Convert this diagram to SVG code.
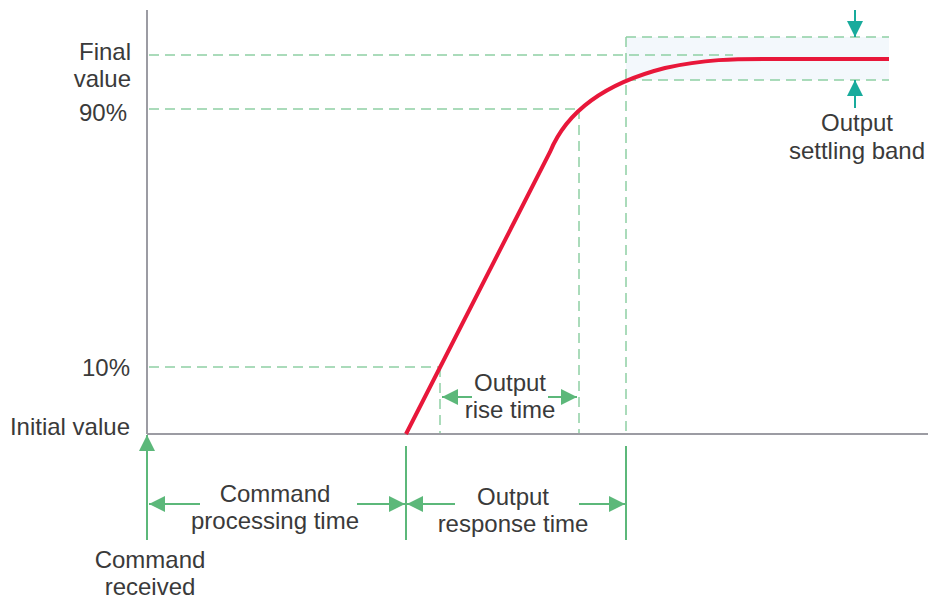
<svg xmlns="http://www.w3.org/2000/svg" width="928" height="600" viewBox="0 0 928 600">
<defs>
<marker id="ga" viewBox="0 0 10 10" refX="10" refY="5" markerWidth="16" markerHeight="16" markerUnits="userSpaceOnUse" orient="auto"><path d="M0,0 L10,5 L0,10 z" fill="#5cb87a"/></marker>
<marker id="ta" viewBox="0 0 10 10" refX="10" refY="5" markerWidth="16" markerHeight="16" markerUnits="userSpaceOnUse" orient="auto"><path d="M0,0 L10,5 L0,10 z" fill="#18ab9c"/></marker>
<style>
text{font-family:"Liberation Sans",Arial,sans-serif;font-size:24px;fill:#3a3a3a}
.dash{stroke:#8fcfa4;stroke-width:1.5;stroke-dasharray:10,6;fill:none}
.g{stroke:#5cb87a;stroke-width:2;fill:none}
.t{stroke:#18ab9c;stroke-width:2;fill:none}
.ax{stroke:#9c9ca3;stroke-width:2;fill:none}
</style>
</defs>
<rect x="626" y="37" width="263" height="43" fill="#f3f8fc"/>
<g id="axes">
<line class="ax" x1="147" y1="10" x2="147" y2="434"/>
<line class="ax" x1="147" y1="434" x2="928" y2="434"/>
</g>
<g id="guides">
<line class="dash" x1="149" y1="55" x2="733" y2="55"/>
<line class="dash" x1="149" y1="109" x2="579" y2="109"/>
<line class="dash" x1="149" y1="367" x2="440" y2="367"/>
<line class="dash" x1="626" y1="37" x2="889" y2="37"/>
<line class="dash" x1="626" y1="80" x2="889" y2="80"/>
<line class="dash" x1="626" y1="37" x2="626" y2="433"/>
<line class="dash" x1="579" y1="109" x2="579" y2="433"/>
<line class="dash" x1="440" y1="367" x2="440" y2="433"/>
</g>
<g id="curve">
<path d="M406,434 L550,152 C568,108 610,82 665,68 C705,59 735,59 765,59 L889,59" fill="none" stroke="#e8173a" stroke-width="4"/>
</g>
<g id="connectors">
<line class="g" x1="147" y1="540" x2="147" y2="435" marker-end="url(#ga)"/>
<line class="g" x1="406" y1="446" x2="406" y2="540"/>
<line class="g" x1="626" y1="446" x2="626" y2="540"/>
<line class="g" x1="200" y1="504" x2="149" y2="504" marker-end="url(#ga)"/>
<line class="g" x1="357" y1="504" x2="405" y2="504" marker-end="url(#ga)"/>
<line class="g" x1="455" y1="504" x2="407" y2="504" marker-end="url(#ga)"/>
<line class="g" x1="579" y1="504" x2="625" y2="504" marker-end="url(#ga)"/>
<line class="g" x1="472" y1="397" x2="442" y2="397" marker-end="url(#ga)"/>
<line class="g" x1="548" y1="397" x2="577" y2="397" marker-end="url(#ga)"/>
<line class="t" x1="855" y1="10" x2="855" y2="37" marker-end="url(#ta)"/>
<line class="t" x1="855" y1="108" x2="855" y2="80" marker-end="url(#ta)"/>
</g>
<g id="labels">
<text x="131" y="60" text-anchor="end">Final</text>
<text x="131" y="87" text-anchor="end">value</text>
<text x="127" y="121" text-anchor="end">90%</text>
<text x="130" y="376" text-anchor="end">10%</text>
<text x="130" y="435" text-anchor="end">Initial value</text>
<text x="275" y="502" text-anchor="middle">Command</text>
<text x="275" y="529" text-anchor="middle">processing time</text>
<text x="150" y="568" text-anchor="middle">Command</text>
<text x="150" y="595" text-anchor="middle">received</text>
<text x="510" y="391" text-anchor="middle">Output</text>
<text x="510" y="418" text-anchor="middle">rise time</text>
<text x="513" y="505" text-anchor="middle">Output</text>
<text x="513" y="532" text-anchor="middle">response time</text>
<text x="857" y="131" text-anchor="middle">Output</text>
<text x="857" y="159" text-anchor="middle">settling band</text>
</g>
</svg>
